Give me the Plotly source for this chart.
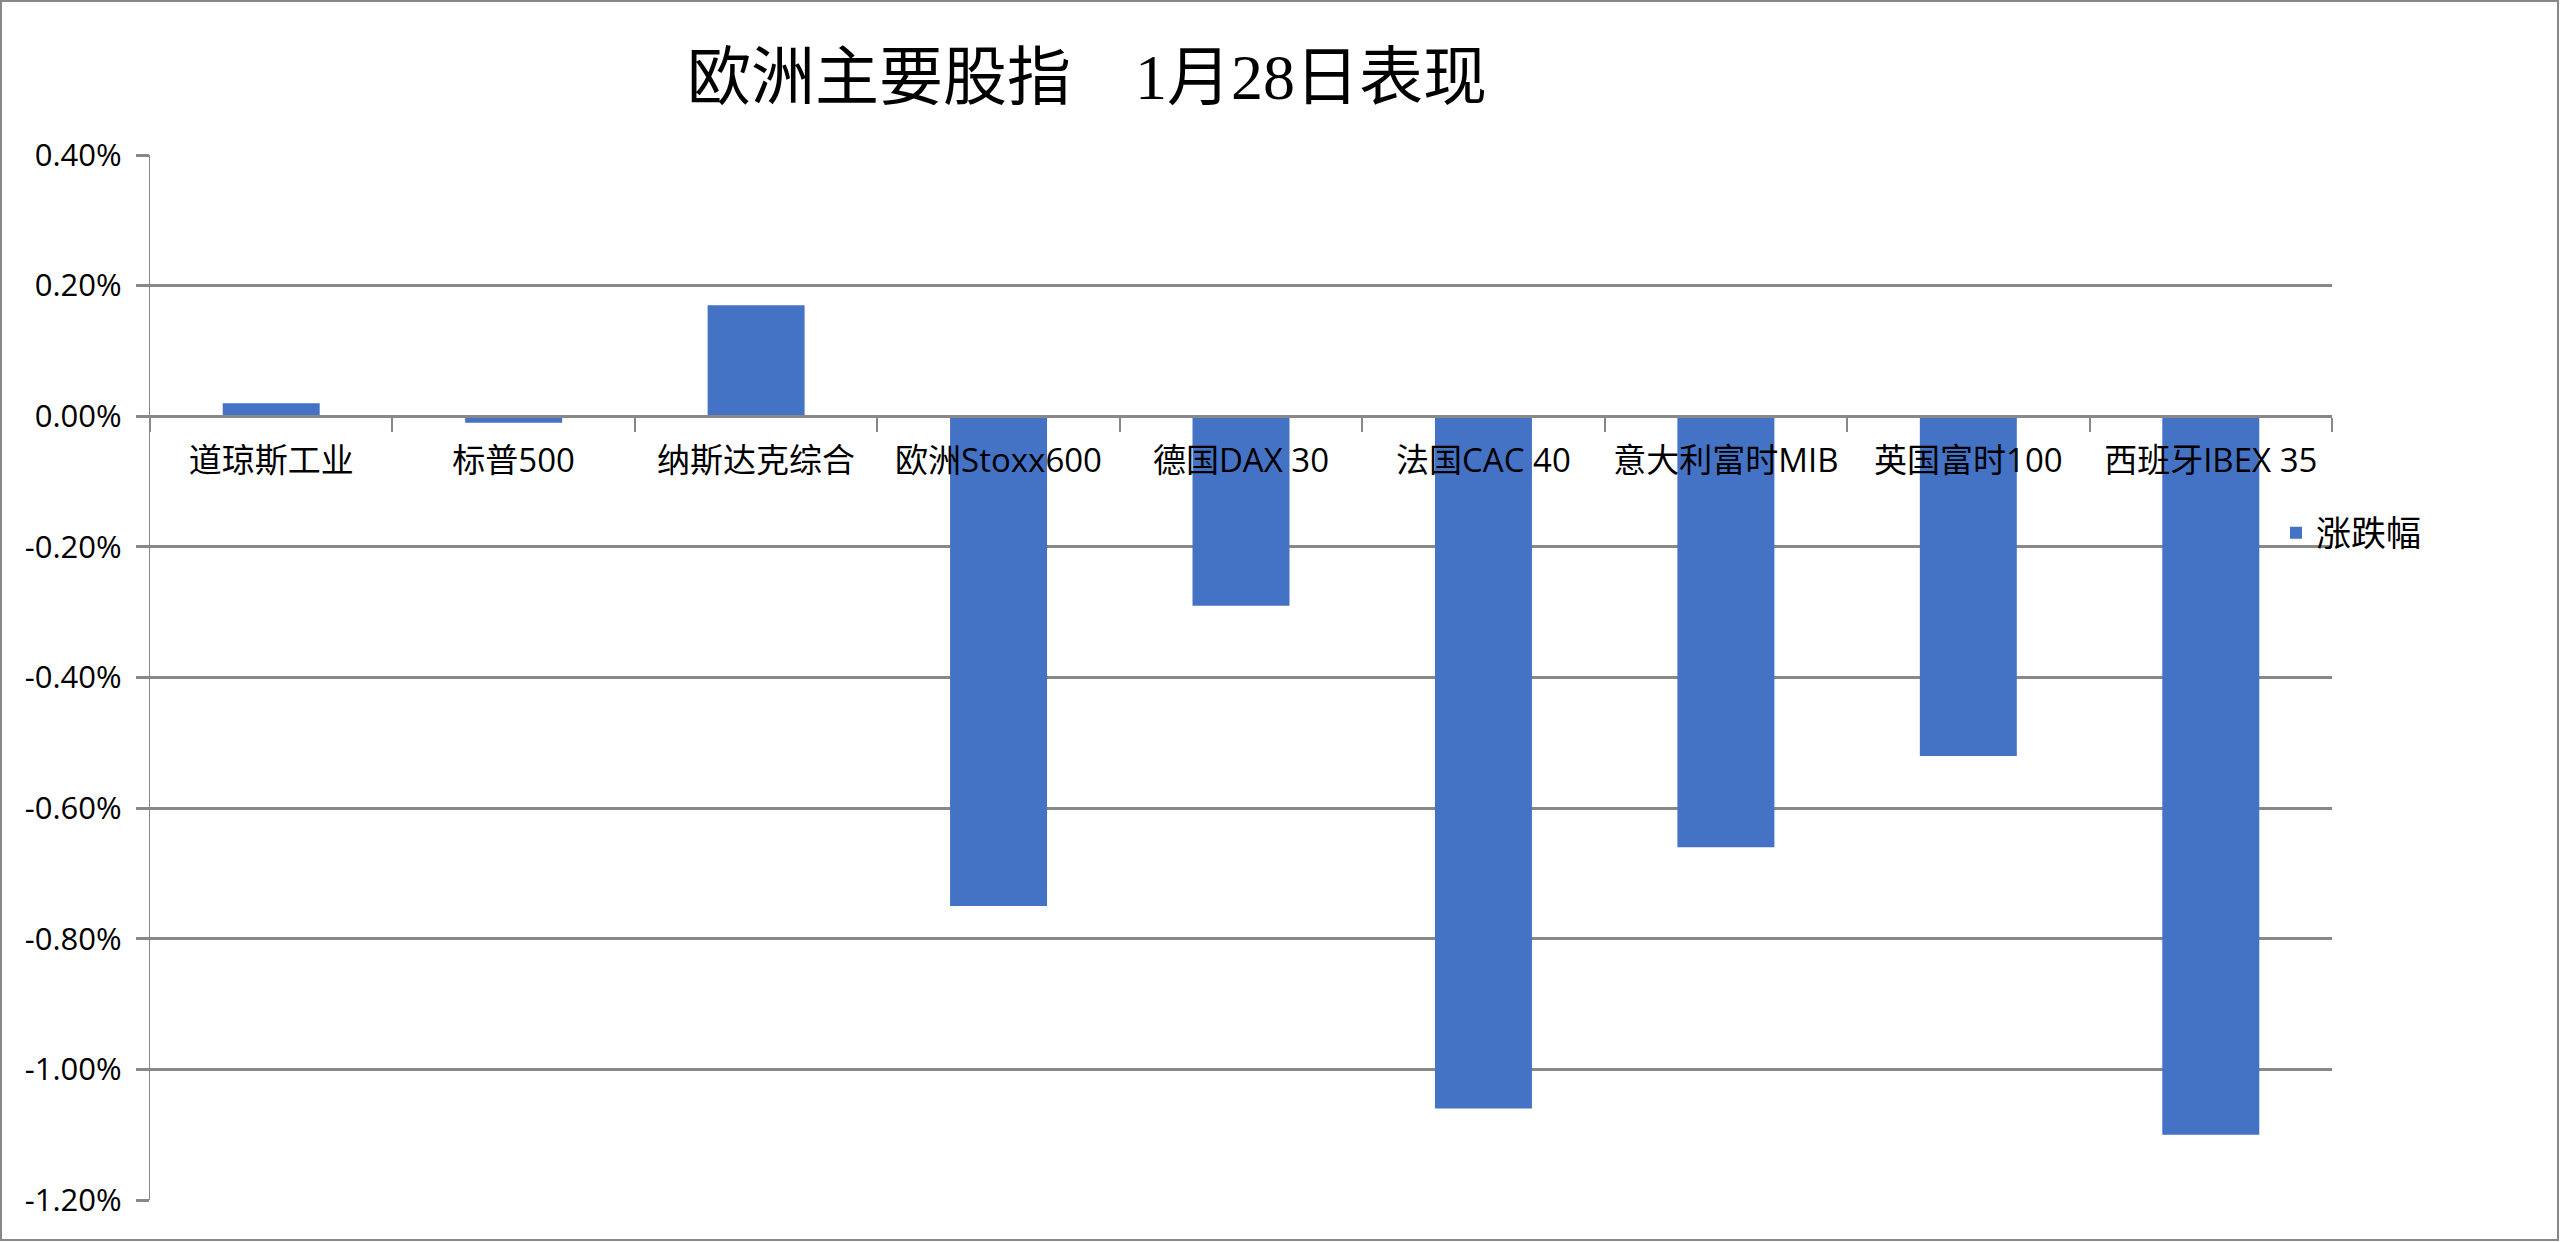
import plotly.graph_objects as go

categories = ["道琼斯工业", "标普500", "纳斯达克综合", "欧洲Stoxx600", "德国DAX 30",
              "法国CAC 40", "意大利富时MIB", "英国富时100", "西班牙IBEX 35"]
changes_pct = [0.02, -0.01, 0.17, -0.75, -0.29, -1.06, -0.66, -0.52, -1.10]
series_name = "涨跌幅"
title_text = "欧洲主要股指　1月28日表现"
y_tickvals = [0.4, 0.2, 0.0, -0.2, -0.4, -0.6, -0.8, -1.0, -1.2]
y_ticktext = ["0.40%", "0.20%", "0.00%", "-0.20%", "-0.40%", "-0.60%", "-0.80%", "-1.00%", "-1.20%"]

W, H = 2560, 1242
ML, MR, MT, MB = 150, 228, 155, 42
PW, PH = W - ML - MR, H - MT - MB
Y_MIN, Y_MAX = -1.2, 0.4

FONT = "Open Sans, Noto Sans CJK SC, sans-serif"
GRID = "#888888"
BAR = "#4472C4"

fig = go.Figure()
fig.add_trace(go.Bar(
    x=categories, y=changes_pct, name=series_name,
    marker=dict(color=BAR, line=dict(width=0)),
    showlegend=True,
))

def px_x(p):
    return (p - ML) / PW

def px_y(p):
    return (H - MB - p) / PH

fig.update_layout(
    width=W, height=H,
    margin=dict(l=ML, r=MR, t=MT, b=MB, pad=0),
    paper_bgcolor="white", plot_bgcolor="white",
    bargap=0.6,
    font=dict(family=FONT, color="black", size=30),
    title=dict(
        text=title_text,
        font=dict(family="Liberation Serif, Noto Sans CJK SC, serif", size=64, color="black"),
        x=px_x(1087), xref="paper", xanchor="center",
        y=1 - 77 / H, yref="container", yanchor="middle",
    ),
    xaxis=dict(
        type="category",
        anchor="free",
        position=(0 - Y_MIN) / (Y_MAX - Y_MIN),
        showline=True, linecolor=GRID, linewidth=2.5,
        ticks="outside", tickson="boundaries", ticklen=14, tickcolor=GRID, tickwidth=1.5,
        showgrid=False,
        tickfont=dict(family=FONT, size=33, color="black"),
        ticklabelstandoff=14,
        fixedrange=True,
    ),
    yaxis=dict(
        range=[Y_MIN, Y_MAX],
        tickvals=y_tickvals, ticktext=y_ticktext,
        showgrid=True, gridcolor=GRID, gridwidth=2.5,
        zeroline=False,
        showline=True, linecolor=GRID, linewidth=1.2,
        ticks="outside", ticklen=13, tickcolor=GRID, tickwidth=2.5,
        tickfont=dict(family=FONT, size=31, color="black"),
        ticklabelstandoff=8,
        fixedrange=True,
    ),
    legend=dict(
        x=px_x(2276), xanchor="left",
        y=px_y(533), yanchor="middle",
        font=dict(family=FONT, size=35, color="black"),
        bgcolor="rgba(0,0,0,0)", borderwidth=0,
        itemwidth=30,
    ),
    shapes=[dict(
        type="rect", xref="paper", yref="paper",
        x0=px_x(1), x1=px_x(2558), y0=px_y(1240), y1=px_y(1),
        line=dict(color=GRID, width=2), fillcolor="rgba(0,0,0,0)", layer="above",
    )],
)

fig.write_html("out.html", config={"displayModeBar": False},
               post_script="document.body.style.margin='0';document.body.style.overflow='hidden';")
